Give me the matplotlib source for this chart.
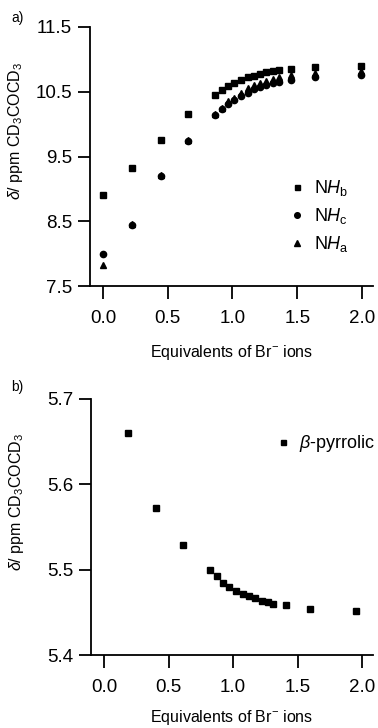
"""Chemical shift titration curves for NH and beta-pyrrolic protons vs. Br- equivalents."""

import matplotlib
matplotlib.use("Agg")
import matplotlib.pyplot as plt

plt.rcParams["font.family"] = ["Liberation Sans", "DejaVu Sans"]
plt.rcParams["mathtext.fontset"] = "custom"
plt.rcParams["mathtext.rm"] = "Liberation Sans"
plt.rcParams["mathtext.it"] = "Liberation Sans:italic"
plt.rcParams["mathtext.bf"] = "Liberation Sans:bold"

# panel a: NH protons
eq_a = [0.0, 0.226, 0.448, 0.659, 0.862, 0.916, 0.966, 1.015, 1.066, 1.117,
        1.164, 1.212, 1.261, 1.310, 1.357, 1.449, 1.634, 1.995]
nh_b = [8.91, 9.33, 9.76, 10.16, 10.45, 10.53, 10.59, 10.64, 10.68, 10.72,
        10.75, 10.77, 10.80, 10.82, 10.84, 10.85, 10.88, 10.89]
nh_c = [8.00, 8.45, 9.20, 9.74, 10.14, 10.23, 10.31, 10.37, 10.43, 10.48,
        10.54, 10.58, 10.61, 10.63, 10.65, 10.68, 10.73, 10.76]
nh_a = [7.82, 8.46, 9.21, 9.75, 10.15, 10.245, 10.35, 10.41, 10.48, 10.55,
        10.60, 10.64, 10.67, 10.70, 10.72, 10.76, 10.785, 10.825]

# panel b: beta-pyrrolic protons
eq_b = [0.185, 0.402, 0.615, 0.823, 0.874, 0.920, 0.972, 1.023, 1.075, 1.121,
        1.172, 1.221, 1.267, 1.313, 1.408, 1.595, 1.951]
beta = [5.660, 5.572, 5.529, 5.500, 5.4925, 5.4847, 5.480, 5.4753, 5.4722,
        5.469, 5.467, 5.4636, 5.462, 5.4605, 5.4585, 5.4546, 5.4523]

X_TICKS = [0.0, 0.5, 1.0, 1.5, 2.0]
YTICKS_A = [7.5, 8.5, 9.5, 10.5, 11.5]
YTICKS_B = [5.4, 5.5, 5.6, 5.7]

YLABEL = r"$\delta$/ ppm CD$_3$COCD$_3$"
XLABEL = r"Equivalents of Br$^{-}$ ions"

fig = plt.figure(figsize=(3.78, 7.28), dpi=100)
ax_a = fig.add_axes([0.238, 0.607, 0.749, 0.356])
ax_b = fig.add_axes([0.241, 0.100, 0.746, 0.352])


def style_axis(ax, yticks, yfmt, xlabelpad):
    for side in ("top", "right"):
        ax.spines[side].set_visible(False)
    for side in ("left", "bottom"):
        ax.spines[side].set_linewidth(1.3)
    ax.set_xlim(-0.1, 2.085)
    ax.set_ylim(yticks[0], yticks[-1])
    ax.set_xticks(X_TICKS)
    ax.set_xticklabels([f"{t:.1f}" for t in X_TICKS])
    ax.set_yticks(yticks)
    ax.set_yticklabels([yfmt.format(t) for t in yticks])
    ax.tick_params(axis="both", direction="out", length=9, width=1.3,
                   labelsize=13.5)
    ax.tick_params(axis="x", pad=8)
    ax.tick_params(axis="y", pad=4)
    ax.set_xlabel(XLABEL, fontsize=11.5, labelpad=xlabelpad)
    ax.set_ylabel(YLABEL, fontsize=11.5)
    ax.yaxis.set_label_coords(-0.23, 0.6)


ax_a.plot(eq_a, nh_b, "s", color="black", markersize=4, label=r"N$\mathit{H}_{\mathrm{b}}$")
ax_a.plot(eq_a, nh_c, "o", color="black", markersize=4.5, label=r"N$\mathit{H}_{\mathrm{c}}$")
ax_a.plot(eq_a, nh_a, "^", color="black", markersize=5, label=r"N$\mathit{H}_{\mathrm{a}}$")
style_axis(ax_a, YTICKS_A, "{:.1f}", 12)
ax_a.legend(loc="upper left", bbox_to_anchor=(0.688, 0.445), frameon=False,
            fontsize=13, handlelength=0.6, handletextpad=0.6,
            labelspacing=0.45, borderaxespad=0, markerscale=0.9)

ax_b.plot(eq_b, beta, "s", color="black", markersize=4, label=r"$\beta$-pyrrolic")
style_axis(ax_b, YTICKS_B, "{:.1f}", 9)
ax_b.legend(loc="upper left", bbox_to_anchor=(0.635, 0.895), frameon=False,
            fontsize=13, handlelength=0.6, handletextpad=0.6,
            borderaxespad=0, markerscale=0.9)

fig.text(0.03, 0.975, "a)", fontsize=10, va="center")
fig.text(0.03, 0.468, "b)", fontsize=10, va="center")

fig.savefig("out.png", dpi=100)
plt.close(fig)
